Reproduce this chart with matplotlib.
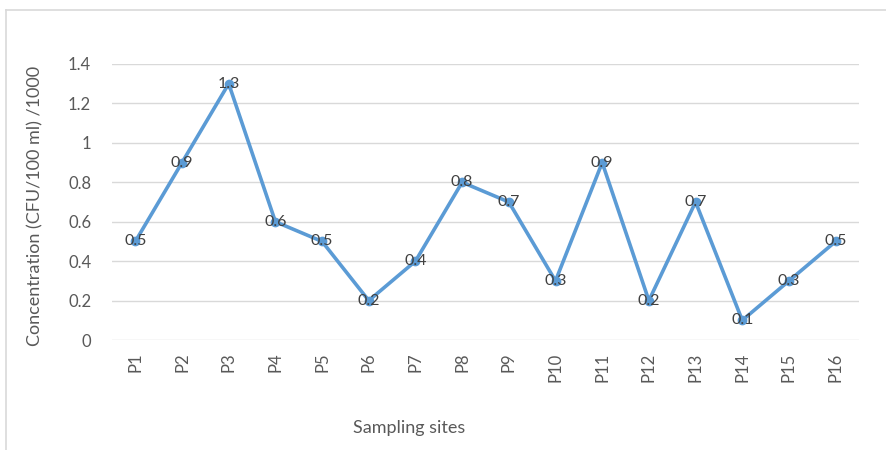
import matplotlib
matplotlib.use("Agg")
import matplotlib.pyplot as plt
from matplotlib.lines import Line2D

sites = ["P1", "P2", "P3", "P4", "P5", "P6", "P7", "P8",
         "P9", "P10", "P11", "P12", "P13", "P14", "P15", "P16"]
concentration = [0.5, 0.9, 1.3, 0.6, 0.5, 0.2, 0.4, 0.8,
                 0.7, 0.3, 0.9, 0.2, 0.7, 0.1, 0.3, 0.5]
y_ticks = [0, 0.2, 0.4, 0.6, 0.8, 1, 1.2, 1.4]
y_tick_labels = ["0", "0.2", "0.4", "0.6", "0.8", "1", "1.2", "1.4"]

plt.rcParams["font.family"] = ["Lato", "DejaVu Sans"]

fig = plt.figure(figsize=(8.86, 4.5), dpi=100)
ax = fig.add_axes([0.1264, 0.2444, 0.8431, 0.6134])

x = list(range(len(sites)))
ax.plot(x, concentration, color="#5B9BD5", linewidth=2.6,
        marker="o", markersize=6, markerfacecolor="#5B9BD5",
        markeredgecolor="#5B9BD5", zorder=3)
for xi, v in zip(x, concentration):
    ax.text(xi, v, f"{v:g}", ha="center", va="center", fontsize=11.5,
            color="#404040", zorder=4)

ax.set_xlim(-0.5, len(sites) - 0.5)
ax.set_ylim(0, 1.4)
ax.set_yticks(y_ticks)
ax.set_yticklabels(y_tick_labels)
ax.set_xticks(x)
ax.set_xticklabels(sites, rotation=90)
ax.tick_params(axis="both", length=0, labelsize=12, colors="#595959")
ax.tick_params(axis="y", pad=15)
ax.tick_params(axis="x", pad=9)
ax.grid(axis="y", color="#D9D9D9", linewidth=1)
ax.set_axisbelow(True)
for s in ax.spines.values():
    s.set_visible(False)

ax.set_ylabel("Concentration (CFU/100 ml) /1000", fontsize=13,
              color="#595959", labelpad=14)
ax.yaxis.set_label_coords(-0.092, 0.485)
fig.text(409 / 886, 1 - 428 / 450, "Sampling sites", fontsize=13,
         color="#595959", ha="center", va="center")

# outer chart frame (top and left edges)
fig.add_artist(Line2D([6 / 886, 1], [1 - 10 / 450, 1 - 10 / 450],
                      transform=fig.transFigure, color="#D9D9D9", linewidth=1.2))
fig.add_artist(Line2D([6 / 886, 6 / 886], [0, 1 - 10 / 450],
                      transform=fig.transFigure, color="#D9D9D9", linewidth=1.2))

fig.savefig("out.png", dpi=100, facecolor="white")
